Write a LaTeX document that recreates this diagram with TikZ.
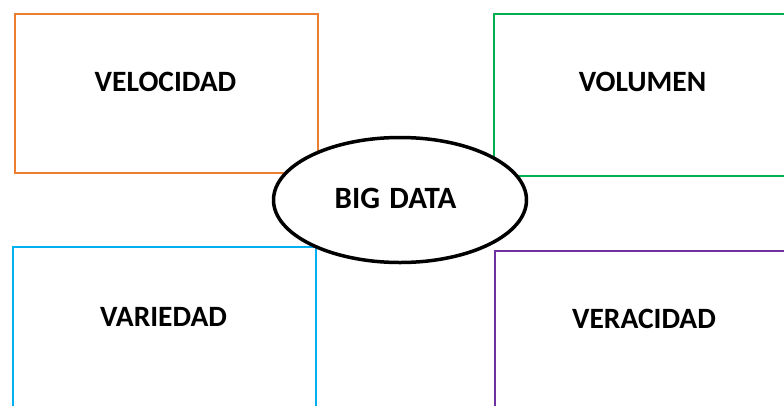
\documentclass[tikz,border=0pt]{standalone}
\usepackage{fontspec}
\setmainfont{Carlito}
\usetikzlibrary{shapes.geometric}
\definecolor{vorange}{HTML}{ED7D31}
\definecolor{vgreen}{HTML}{00B050}
\definecolor{vblue}{HTML}{00B0F0}
\definecolor{vpurple}{HTML}{7030A0}
\tikzset{
  vbox/.style={draw=#1, line width=2pt, rectangle, inner sep=0pt, anchor=north west},
  vlabel/.style={font=\fontsize{29.5}{31}\selectfont\bfseries, inner sep=0pt, anchor=center},
  hub/.style={draw=black, line width=3.5pt, fill=white, ellipse, inner sep=0pt,
              minimum width=253pt, minimum height=125pt}
}
\begin{document}
\begin{tikzpicture}[x=1pt, y=-1pt]
  \useasboundingbox (0,0) rectangle (784,405);
  \clip (0,0) rectangle (784,405);
  % the four V boxes
  \node[vbox=vorange, minimum width=303pt, minimum height=159pt] (bvel) at (13.5,12.5) {};
  \node[vbox=vgreen, minimum width=310pt, minimum height=162pt] (bvol) at (492.5,12.5) {};
  \node[vbox=vblue, minimum width=303pt, minimum height=180pt] (bvar) at (12,245.5) {};
  \node[vbox=vpurple, minimum width=310pt, minimum height=180pt] (bver) at (493.5,249.5) {};
  % labels
  \node[vlabel] (tvel) at (165.5,81.5) {VELOCIDAD};
  \node[vlabel] (tvol) at (642.5,82) {VOLUMEN};
  \node[vlabel] (tvar) at (163.5,317) {VARIEDAD};
  \node[vlabel] (tver) at (644,318.5) {VERACIDAD};
  % centre ellipse
  \node[hub] (big) at (400,200) {};
  \node[vlabel, font=\fontsize{31}{33}\selectfont\bfseries] (tbig) at (395.5,198) {BIG\hspace{0.3em}DATA};
\end{tikzpicture}
\end{document}
